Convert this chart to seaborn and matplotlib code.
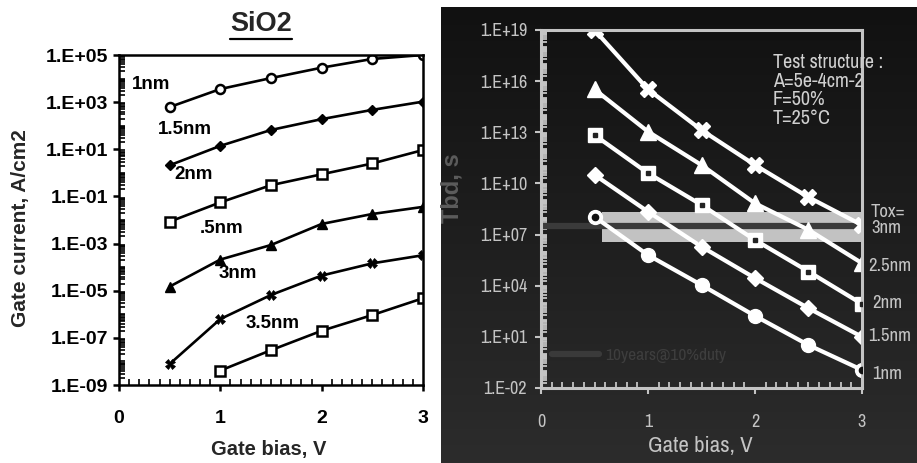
import numpy as np
import matplotlib
matplotlib.use("Agg")
import matplotlib.pyplot as plt
import matplotlib.ticker as mticker
from matplotlib import font_manager as fm
from matplotlib.colors import LinearSegmentedColormap
from matplotlib.lines import Line2D
import seaborn as sns

# ---- data ----
bias = [0.5, 1.0, 1.5, 2.0, 2.5, 3.0]
bias_35 = [1.0, 1.5, 2.0, 2.5, 3.0]

# left panel: gate current density (A/cm2) for SiO2
j_1nm = [6.2e2, 3.6e3, 1.05e4, 2.9e4, 6.8e4, 1.0e5]
j_15nm = [2.1e0, 1.4e1, 6.6e1, 1.9e2, 4.7e2, 1.05e3]
j_2nm = [8.5e-3, 5.6e-2, 3.0e-1, 8.7e-1, 2.5e0, 9.3e0]
j_25nm = [1.5e-5, 2.1e-4, 8.7e-4, 6.8e-3, 1.8e-2, 3.6e-2]
j_3nm = [7.8e-9, 6.3e-7, 6.6e-6, 4.4e-5, 1.45e-4, 3.2e-4]
j_35nm = [4.1e-9, 3.0e-8, 2.0e-7, 9.3e-7, 4.8e-6]

# right panel: time to breakdown (s)
t_3nm = [1.0e19, 3.3e15, 1.35e13, 1.2e11, 1.55e9, 3.6e7]
t_25nm = [3.3e15, 1.1e13, 1.2e11, 6.8e8, 1.9e7, 2.1e5]
t_2nm = [6.9e12, 4.0e10, 5.5e8, 4.8e6, 6.8e4, 8.5e2]
t_15nm = [3.2e10, 2.2e8, 1.95e6, 2.8e4, 4.8e2, 1.0e1]
t_1nm = [1.1e8, 6.3e5, 1.1e4, 1.7e2, 3.3e0, 1.15e-1]

band_x = [0.57, 3.0]
band_lo = 3.8e6
band_hi = 2.2e8
ten_years = 3.15e7

sns.set_style("white")
plt.rcParams["font.family"] = ["Liberation Sans", "DejaVu Sans"]
GREY = "#c4c4c4"


def _weight(f):
    wt = f.weight
    if isinstance(wt, str):
        wt = fm.weight_dict.get(wt.lower(), 400)
    return wt


# a narrow / condensed regular face for the right picture, if one is installed
narrow_file = None
regular = [f for f in fm.fontManager.ttflist
           if _weight(f) <= 500 and f.style == "normal"]
for f in regular:
    if "Narrow" in f.name:
        narrow_file = f.fname
        break
if narrow_file is None:
    for f in regular:
        if str(f.stretch) in ("condensed", "semi-condensed", "75", "87"):
            narrow_file = f.fname
            break


def nprop(size):
    if narrow_file:
        return fm.FontProperties(fname=narrow_file, size=size)
    return fm.FontProperties(family=["Liberation Sans", "DejaVu Sans"],
                             size=size * 0.85)


W, H = 917, 463


def fx(p):
    return p / W


def fy(p):
    return 1 - p / H


def sci_fmt(v, pos):
    e = int(round(np.log10(v)))
    return f"1.E{e:+03d}"


fig = plt.figure(figsize=(W / 100, H / 100), dpi=100)
fig.patch.set_facecolor("white")

# dark gradient background of the right picture
ax_bg = fig.add_axes([fx(441), 0, 1 - fx(441), (H - 7) / H])
grad = np.linspace(0, 1, 256).reshape(-1, 1)
ax_bg.imshow(grad, aspect="auto",
             cmap=LinearSegmentedColormap.from_list("bg", ["#111111", "#2c2c2c"]))
ax_bg.axis("off")

# ================= left panel =================
ax1 = fig.add_axes([fx(119), fy(385), (423 - 119) / W, 330 / H])
k = "black"
sns.lineplot(x=bias, y=j_1nm, ax=ax1, color=k, lw=1.9, marker="o", ms=6.5,
             mfc="white", mec=k, mew=1.8)
sns.lineplot(x=bias, y=j_15nm, ax=ax1, color=k, lw=1.9, marker="D", ms=5.5,
             mfc=k, mec=k, mew=1)
sns.lineplot(x=bias, y=j_2nm, ax=ax1, color=k, lw=1.9, marker="s", ms=6.5,
             mfc="white", mec=k, mew=1.8)
sns.lineplot(x=bias, y=j_25nm, ax=ax1, color=k, lw=1.9, marker="^", ms=7,
             mfc=k, mec=k, mew=1)
sns.lineplot(x=bias, y=j_3nm, ax=ax1, color=k, lw=1.9, marker="X", ms=7,
             mfc=k, mec=k, mew=0.5)
sns.lineplot(x=bias_35, y=j_35nm, ax=ax1, color=k, lw=1.9, marker="s", ms=6.5,
             mfc="white", mec=k, mew=1.8)

ax1.set_yscale("log")
ax1.set_xlim(0, 3)
ax1.set_ylim(1e-9, 1e5)
ax1.yaxis.set_major_locator(mticker.FixedLocator(10.0 ** np.arange(-9, 6, 2)))
ax1.yaxis.set_major_formatter(mticker.FuncFormatter(sci_fmt))
ax1.yaxis.set_minor_locator(mticker.LogLocator(base=10, subs=np.arange(1.0, 10.0),
                                               numticks=200))
ax1.yaxis.set_minor_formatter(mticker.NullFormatter())
ax1.xaxis.set_major_locator(mticker.FixedLocator([0, 1, 2, 3]))
ax1.xaxis.set_minor_locator(mticker.MultipleLocator(0.1))
for s in ax1.spines.values():
    s.set_linewidth(1.8)
    s.set_color(k)
ax1.tick_params(which="both", left=True, bottom=True, colors=k)
ax1.tick_params(which="major", direction="out", length=4, width=1.8,
                labelsize=14, pad=4)
ax1.tick_params(axis="x", which="major", pad=14)
ax1.tick_params(which="minor", direction="in", length=4, width=1.2)
for lab in ax1.get_xticklabels() + ax1.get_yticklabels():
    lab.set_fontweight("bold")
ax1.set_xlabel("")
ax1.set_ylabel("")

left_labels = [("1nm", 0.316, 10 ** 3.73), ("1.5nm", 0.651, 10 ** 1.86),
               ("2nm", 0.74, 10 ** -0.09), (".5nm", 1.017, 10 ** -2.34),
               ("3nm", 1.169, 10 ** -4.25), ("3.5nm", 1.515, 10 ** -6.37)]
for txt, xx, yy in left_labels:
    ax1.text(xx, yy, txt, ha="center", va="center", fontsize=13.5,
             fontweight="bold", color=k)

fig.text(fx(261), fy(24), "SiO2", ha="center", va="center", fontsize=19.5,
         fontweight="bold")
fig.add_artist(Line2D([fx(230), fx(292)], [fy(38.5), fy(38.5)], color=k, lw=1.6))
fig.text(fx(21), fy(228), "Gate current, A/cm2", rotation=90, ha="center",
         va="center", fontsize=15, fontweight="bold")
fig.text(fx(269), fy(449), "Gate bias, V", ha="center", va="center",
         fontsize=14.5, fontweight="bold")

# ================= right panel =================
ax2 = fig.add_axes([fx(541), fy(388), (862 - 541) / W, 358 / H])
ax2.set_facecolor("none")
ax2.fill_between(band_x, band_lo, band_hi, color="#c2c2c2", lw=0, zorder=1)
ax2.axhline(ten_years, color="#3a3a3a", lw=4.5, zorder=1.5)

w = "white"
sns.lineplot(x=bias, y=t_3nm, ax=ax2, color=w, lw=3, marker="X", ms=12,
             mfc=w, mec=w, mew=1)
sns.lineplot(x=bias, y=t_25nm, ax=ax2, color=w, lw=3, marker="^", ms=11,
             mfc=w, mec=w, mew=1)
sns.lineplot(x=bias, y=t_2nm, ax=ax2, color=w, lw=3, marker="s", ms=10,
             mfc=w, mec=w, mew=1)
sns.lineplot(x=bias, y=t_15nm, ax=ax2, color=w, lw=3, marker="D", ms=8.5,
             mfc=w, mec=w, mew=1)
sns.lineplot(x=bias, y=t_1nm, ax=ax2, color=w, lw=3, marker="o", ms=10,
             mfc=w, mec=w, mew=1)
# open-circle look at the ends of the 1nm curve
ax2.plot([bias[0], bias[-1]], [t_1nm[0], t_1nm[-1]], "o", ms=4.5, color="#111111",
         zorder=5)
# small dark dot inside the squares
ax2.plot(bias, t_2nm, "s", ms=3, color="#222222", zorder=5)

ax2.set_yscale("log")
ax2.set_xlim(0, 3)
ax2.set_ylim(1e-2, 1e19)
ax2.yaxis.set_major_locator(mticker.FixedLocator(10.0 ** np.arange(-2, 20, 3)))
ax2.yaxis.set_major_formatter(mticker.FuncFormatter(sci_fmt))
ax2.yaxis.set_minor_locator(mticker.LogLocator(base=10, subs=np.arange(1.0, 10.0),
                                               numticks=200))
ax2.yaxis.set_minor_formatter(mticker.NullFormatter())
ax2.xaxis.set_major_locator(mticker.FixedLocator([0, 1, 2, 3]))
ax2.xaxis.set_minor_locator(mticker.MultipleLocator(0.1))
for s in ax2.spines.values():
    s.set_linewidth(2.2)
    s.set_color(GREY)
ax2.tick_params(which="both", left=True, bottom=True, colors=GREY)
ax2.tick_params(which="major", direction="out", length=4, width=1.5, pad=6)
ax2.tick_params(axis="x", which="major", pad=15)
ax2.tick_params(which="minor", direction="in", length=4.5, width=1.3)
for lab in ax2.get_xticklabels() + ax2.get_yticklabels():
    lab.set_fontproperties(nprop(13))
ax2.set_xlabel("")
ax2.set_ylabel("")


def ax2_px(xp, yp):
    return (xp - 541) / 321, (388 - yp) / 358


right_labels = [("Tox=", 871, 212), ("3nm", 871, 228), ("2.5nm", 868, 266),
                ("2nm", 872, 303), ("1.5nm", 868, 336), ("1nm", 872, 374)]
for txt, xp, yp in right_labels:
    xa, ya = ax2_px(xp, yp)
    ax2.text(xa, ya, txt, transform=ax2.transAxes, ha="left", va="center",
             fontproperties=nprop(13.5), color=GREY, clip_on=False)

xa, ya = ax2_px(773, 53)
ax2.text(xa, ya, "Test structure :\nA=5e-4cm-2\nF=50%\nT=25°C",
         transform=ax2.transAxes, ha="left", va="top",
         fontproperties=nprop(14.5), color="#d0d0d0", linespacing=0.98,
         clip_on=False)

leg = ax2.legend(handles=[Line2D([], [], color="#3a3a3a", lw=4.5)],
                 labels=["10years@10%duty"], loc="center left",
                 bbox_to_anchor=(0.034, 0.092), frameon=False,
                 handlelength=2.7, handletextpad=0.35, borderpad=0,
                 borderaxespad=0, prop=nprop(12.5), labelcolor="#3e3e3e")

fig.text(fx(452), fy(188), "Tbd, s", rotation=90, ha="center", va="center",
         fontsize=17, fontweight="bold", color="#5c5c5c")
fig.text(fx(700), fy(446), "Gate bias, V", ha="center", va="center",
         fontproperties=nprop(16.5), color=GREY)

fig.savefig("out.png", dpi=100)
